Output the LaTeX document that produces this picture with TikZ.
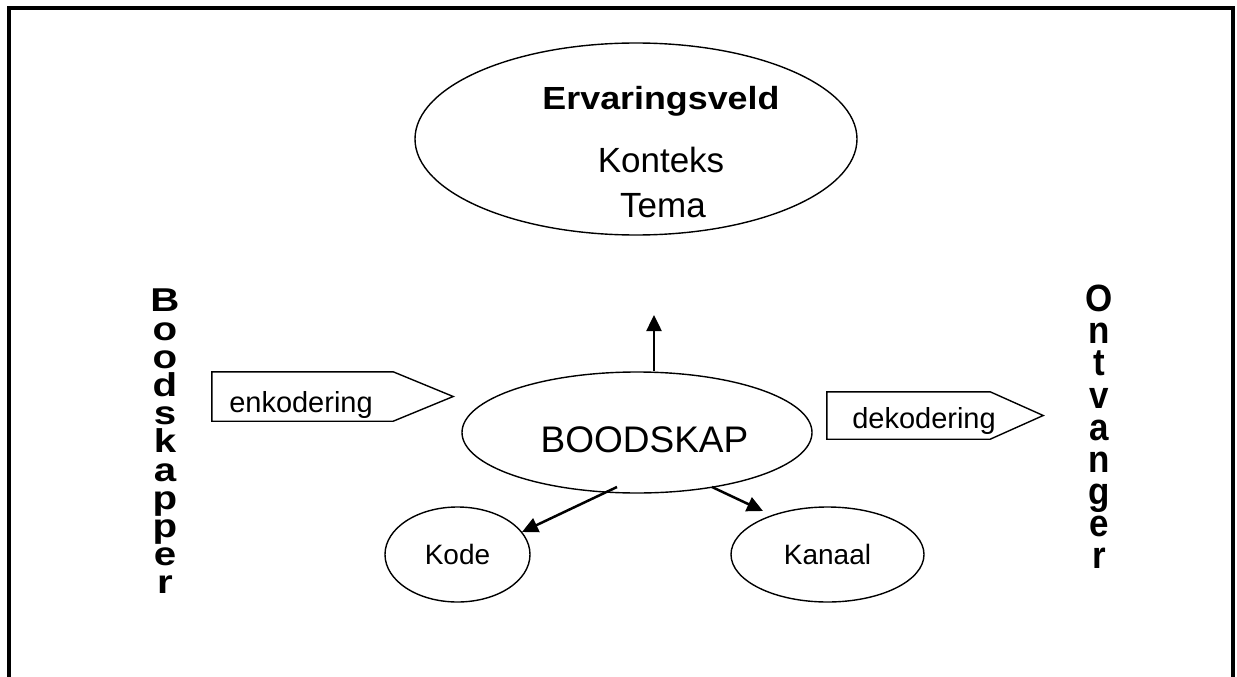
\documentclass[tikz,border=0pt]{standalone}
\usepackage{fontspec}
\setmainfont{Liberation Sans}
\usetikzlibrary{arrows.meta,shapes.geometric,calc}
\begin{document}
\begin{tikzpicture}[x=1pt,y=-1pt,
  oval/.style={draw, ellipse, line width=1.4pt, inner sep=0pt},
  lbl/.style={inner sep=0pt, anchor=base},
  pbox/.style={inner sep=0pt},
  pent/.style={draw, line width=1.4pt, line join=miter},
  conn/.style={line width=2.5pt, -{Triangle[length=16pt,width=15pt]}},
  vtext/.style={inner sep=0pt, anchor=north},
]
\useasboundingbox (0,0) rectangle (1237,677);
% frame
\draw[line width=4pt] (9,677) -- (9,8) -- (1233,8) -- (1233,677);

% top ellipse
\node[oval, minimum width=442pt, minimum height=192pt] (ervel) at (636,139) {};
\node[lbl, font=\fontsize{32}{36}\selectfont\bfseries] (ervt) at (661,110) {\scalebox{1.12}[1]{Ervaringsveld}};
\node[lbl, font=\fontsize{35}{40}\selectfont] (kont) at (661,172) {Konteks};
\node[lbl, font=\fontsize{35}{40}\selectfont] (tema) at (663,217) {Tema};

% central ellipse
\node[oval, minimum width=350pt, minimum height=121pt] (bood) at (637,432.5) {};
\node[lbl, font=\fontsize{37}{42}\selectfont] (boodt) at (644.5,452) {BOODSKAP};

% small ellipses
\node[oval, minimum width=145pt, minimum height=95pt, font=\fontsize{28}{32}\selectfont] (kode) at (457.5,554.5) {Kode};
\node[oval, minimum width=193pt, minimum height=95pt, font=\fontsize{28}{32}\selectfont] (kanaal) at (827.5,554.5) {Kanaal};

% pentagon arrows
\node[pbox, minimum width=181pt, minimum height=49pt] (enk) at (302.5,396.5) {};
\draw[pent] (enk.north west) -- (enk.north east) -- ($(enk.east)+(60,0)$) -- (enk.south east) -- (enk.south west) -- cycle;
\node[lbl, font=\fontsize{29}{34}\selectfont] (enkt) at (301,412) {enkodering};

\node[pbox, minimum width=163pt, minimum height=47pt] (dek) at (908.5,415.5) {};
\draw[pent] (dek.north west) -- (dek.north east) -- ($(dek.east)+(53,0)$) -- (dek.south east) -- (dek.south west) -- cycle;
\node[lbl, font=\fontsize{29}{34}\selectfont] (dekt) at (924,428) {dekodering};

% connectors
\coordinate (upend) at (654,315);
\coordinate (bk) at (617,487);
\coordinate (kodein) at (522,532);
\coordinate (bn) at (712,487);
\coordinate (kanaalin) at (763,511);
\draw[conn] (bood.north -| upend) -- (upend);
\draw[conn] (bk) -- (kodein);
\draw[conn] (bn) -- (kanaalin);

% vertical labels
\node[vtext, font=\fontsize{33}{28.2}\selectfont\bfseries] (boodskapper) at (165,289)
  {\scalebox{1.22}[1]{\vbox{\baselineskip=28.2pt\lineskiplimit=-50pt\halign{\hfil#\hfil\cr B\cr o\cr o\cr d\cr s\cr k\cr a\cr p\cr p\cr e\cr r\cr}}}};
\node[vtext, font=\fontsize{38}{32.1}\selectfont\bfseries] (ontvanger) at (1099,285)
  {\scalebox{0.92}[1]{\vbox{\baselineskip=32.1pt\lineskiplimit=-50pt\halign{\hfil#\hfil\cr O\cr n\cr t\cr v\cr a\cr n\cr g\cr e\cr r\cr}}}};
\end{tikzpicture}
\end{document}
